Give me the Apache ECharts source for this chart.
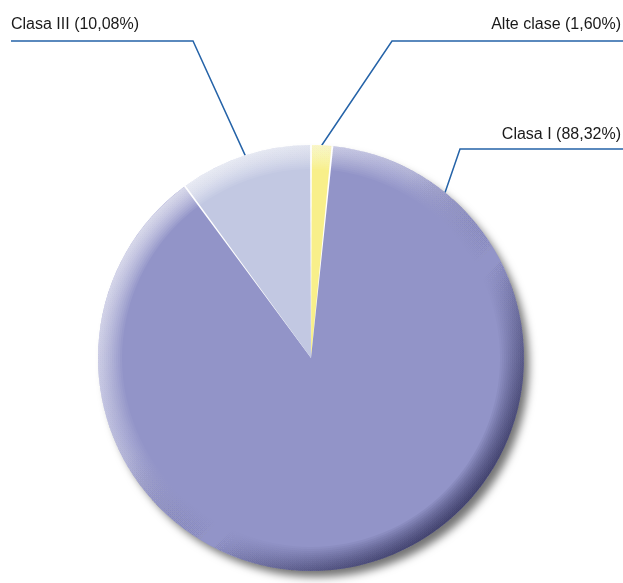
<!DOCTYPE html>
<html>
<head>
<meta charset="utf-8">
<script src="https://cdn.jsdelivr.net/npm/echarts@6/dist/echarts.min.js"></script>
<style>
  html, body { margin: 0; padding: 0; background: #fff; }
  #chartPie { width: 623px; height: 583px; }
</style>
</head>
<body>
<div id="chartPie"></div>
<script>
// data
var categories = ['Alte clase', 'Clasa I', 'Clasa III'];
var shares = [1.60, 88.32, 10.08];
var colors = ['#f8ef8a', '#9294c8', '#c2c8e2'];

var cx = 311, cy = 358, R = 213;

// where each label sits and where its leader line touches the pie
var labelSpots = [
  { x: 621, y: 25, align: 'right', lineY: 41, kneeX: 392, endX: 623, angle: 2.9 },
  { x: 621, y: 135, align: 'right', lineY: 149, kneeX: 460, endX: 623, angle: 39 },
  { x: 11, y: 25, align: 'left', lineY: 41, kneeX: 193, endX: 11, angle: -18 }
];

var chart = echarts.init(document.getElementById('chartPie'));

// thin stacked rings fake the bevel on the rim
var rimSeries = [];
for (var r = 189; r < R; r += 2) {
  rimSeries.push({
    type: 'pie',
    silent: true,
    center: [cx, cy],
    radius: [r, R],
    z: 3,
    label: { show: false },
    labelLine: { show: false },
    emphasis: { disabled: true },
    itemStyle: {
      borderWidth: 0,
      color: new echarts.graphic.LinearGradient(0, 0, 1, 1, [
        { offset: 0, color: 'rgba(255,255,255,0.11)' },
        { offset: 0.4, color: 'rgba(255,255,255,0.03)' },
        { offset: 0.6, color: 'rgba(30,30,70,0)' },
        { offset: 1, color: 'rgba(30,30,70,0.14)' }
      ])
    },
    data: [{ value: 1, name: '' }]
  });
}

chart.setOption({
  animation: false,
  series: [
    {
      // shadow disc under the pie
      type: 'pie',
      silent: true,
      center: [cx, cy],
      radius: R - 1,
      z: 1,
      label: { show: false },
      labelLine: { show: false },
      emphasis: { disabled: true },
      itemStyle: {
        color: '#ffffff',
        borderWidth: 0,
        shadowColor: 'rgba(0,0,0,0.55)',
        shadowBlur: 9,
        shadowOffsetX: 6,
        shadowOffsetY: 7
      },
      data: [{ value: 1, name: '' }]
    },
    {
      type: 'pie',
      center: [cx, cy],
      radius: R,
      z: 2,
      startAngle: 90,
      clockwise: true,
      padAngle: 0.5,
      avoidLabelOverlap: false,
      emphasis: { disabled: true },
      itemStyle: { borderWidth: 0 },
      label: {
        show: true,
        position: 'outside',
        fontFamily: '"Liberation Sans", Arial, sans-serif',
        fontSize: 16,
        color: '#1a1a1a',
        formatter: function (p) {
          return p.name + ' (' + p.value.toFixed(2).replace('.', ',') + '%)';
        }
      },
      labelLine: {
        show: true,
        lineStyle: { color: '#2563a8', width: 1.5 }
      },
      labelLayout: function (params) {
        var s = labelSpots[params.dataIndex];
        var a = s.angle * Math.PI / 180;
        var px = cx + R * Math.sin(a);
        var py = cy - R * Math.cos(a);
        return {
          x: s.x,
          y: s.y,
          align: s.align,
          verticalAlign: 'middle',
          labelLinePoints: [[px, py], [s.kneeX, s.lineY], [s.endX, s.lineY]]
        };
      },
      data: categories.map(function (c, i) {
        return { name: c, value: shares[i], itemStyle: { color: colors[i] } };
      })
    }
  ].concat(rimSeries)
});
</script>
</body>
</html>
